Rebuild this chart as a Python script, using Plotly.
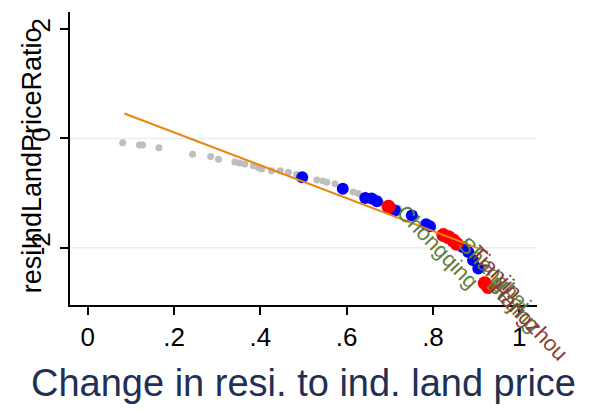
import plotly.graph_objects as go

# All cities (grey background cloud)
gray_x = [0.081, 0.120, 0.127, 0.165, 0.243, 0.285, 0.303, 0.341, 0.352, 0.364,
          0.384, 0.395, 0.403, 0.426, 0.446, 0.465, 0.484, 0.531, 0.545, 0.554,
          0.573, 0.615, 0.627, 0.680, 0.720, 0.760, 0.800]
gray_y = [-0.08, -0.12, -0.12, -0.17, -0.29, -0.33, -0.38, -0.43, -0.45, -0.47,
          -0.50, -0.53, -0.56, -0.59, -0.59, -0.62, -0.66, -0.76, -0.78, -0.80,
          -0.83, -0.98, -1.01, -1.18, -1.28, -1.45, -1.65]

# Highlighted groups
blue_x = [0.497, 0.591, 0.643, 0.658, 0.670, 0.712, 0.751, 0.784, 0.793, 0.869,
          0.882, 0.893, 0.905]
blue_y = [-0.71, -0.92, -1.09, -1.10, -1.15, -1.32, -1.41, -1.57, -1.61, -1.99,
          -2.08, -2.23, -2.38]
red_x = [0.697, 0.824, 0.836, 0.847, 0.855, 0.920, 0.928]
red_y = [-1.25, -1.77, -1.81, -1.87, -1.93, -2.65, -2.72]

# Linear fit
fit_x = [0.085, 0.928]
fit_intercept = 0.712
fit_slope = -3.01

# Labelled cities
label_names = ["Chongqing", "Shanghai", "Tianjin", "Beijing", "Hangzhou"]
label_x = [0.712, 0.855, 0.882, 0.920, 0.928]
label_y = [-1.32, -1.93, -2.08, -2.65, -2.72]
label_colors = ["#5f803a", "#5f803a", "#8c3b3b", "#5f803a", "#8c3b3b"]

x_ticks = [0, 0.2, 0.4, 0.6, 0.8, 1.0]
x_tick_text = ["0", ".2", ".4", ".6", ".8", "1"]
y_ticks = [-2, 0, 2]
y_tick_text = ["-2", "0", "2"]

FONT = "Liberation Sans, Arial, Helvetica, sans-serif"

fig = go.Figure()

fig.add_trace(go.Scatter(x=gray_x, y=gray_y, mode="markers",
                         marker=dict(color="#bebebe", size=7), showlegend=False))
fig.add_trace(go.Scatter(x=blue_x, y=blue_y, mode="markers",
                         marker=dict(color="#0000ff", size=12), showlegend=False))
fig.add_trace(go.Scatter(x=red_x, y=red_y, mode="markers",
                         marker=dict(color="#ff0000", size=14), showlegend=False))
fig.add_trace(go.Scatter(x=fit_x, y=[fit_intercept + fit_slope * v for v in fit_x],
                         mode="lines", line=dict(color="#e8860f", width=2),
                         showlegend=False))

# Light horizontal reference grid
for gy in [0, -2]:
    fig.add_shape(type="line", xref="paper", yref="y", x0=0, x1=1, y0=gy, y1=gy,
                  line=dict(color="#e6eff1", width=1.5), layer="below")

for name, lx, ly, col in zip(label_names, label_x, label_y, label_colors):
    fig.add_annotation(x=lx, y=ly, text=name, showarrow=False, textangle=46,
                       xanchor="left", yanchor="top", xshift=-6, yshift=14,
                       font=dict(family=FONT, size=22, color=col))

# Rotated y-axis title sitting over the tick labels
fig.add_annotation(xref="paper", yref="paper", x=-0.081, y=0.495,
                   text="resiIndLandPriceRatio", textangle=-90, showarrow=False,
                   xanchor="center", yanchor="middle",
                   font=dict(family=FONT, size=27, color="#000000"))

fig.update_layout(
    width=589, height=411,
    margin=dict(l=70, r=52, t=12, b=106),
    paper_bgcolor="white", plot_bgcolor="white",
    font=dict(family=FONT, color="#000000"),
    xaxis=dict(range=[-0.041, 1.041], tickvals=x_ticks, ticktext=x_tick_text,
               showgrid=False, zeroline=False, showline=True, linecolor="#000000",
               linewidth=1.5, ticks="outside", ticklen=8, tickwidth=1.5,
               tickcolor="#000000", tickfont=dict(size=26),
               title=dict(text="Change in resi. to ind. land price",
                          font=dict(size=38, color="#1f2f55"), standoff=18)),
    yaxis=dict(range=[-3.05, 2.316], tickvals=y_ticks, ticktext=y_tick_text,
               showgrid=False, zeroline=False, showline=True, linecolor="#000000",
               linewidth=1.5, ticks="outside", ticklen=8, tickwidth=1.5,
               tickcolor="#000000", tickangle=-90, tickfont=dict(size=26)),
)

fig.write_html("out.html")
